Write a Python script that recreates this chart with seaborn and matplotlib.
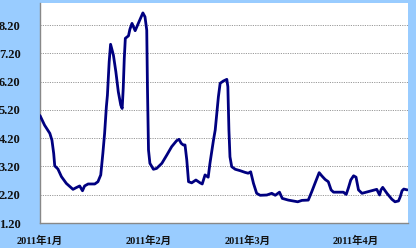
import numpy as np
import pandas as pd
import matplotlib
matplotlib.use("Agg")
import matplotlib.pyplot as plt
import seaborn as sns

# Day offsets from 2011-01-01 and rate values
day_offsets = [0.0, 1.3, 2.8, 3.4, 3.9, 4.2, 5.1, 6.1, 7.5, 9.4, 10.3, 11.3, 12.1, 12.7,
               13.7, 15.6, 16.5, 17.3, 17.9, 18.4, 18.9, 19.2, 19.7, 20.1, 20.9, 21.6,
               22.3, 23.0, 23.4, 23.7, 24.0, 24.3, 25.2, 25.6, 26.2, 27.1, 28.0, 29.3,
               29.9, 30.4, 30.6, 30.9, 31.3, 32.3, 33.2, 34.7, 36.1, 37.5, 38.9, 39.6,
               40.2, 40.8, 41.3, 41.8, 42.3, 43.2, 44.4, 45.6, 46.2, 47.0, 47.9, 48.4,
               49.4, 49.9, 50.8, 51.3, 52.2, 53.2, 53.5, 53.8, 54.1, 54.6, 55.6, 57.0,
               58.4, 59.3, 60.0, 60.8, 61.7, 62.7, 64.6, 66.0, 67.0, 68.2, 69.0, 70.7,
               73.4, 74.6, 76.4, 77.4, 78.3, 79.5, 80.3, 81.2, 82.1, 82.9, 83.6, 84.5,
               86.4, 87.2, 87.8, 88.5, 89.3, 90.0, 90.7, 91.7, 93.5, 95.9, 96.7, 97.1,
               97.6, 98.8, 100.2, 101.1, 102.1, 102.6, 103.1, 103.6, 104.6]
rates = [5.00, 4.66, 4.37, 4.13, 3.66, 3.22, 3.11, 2.84, 2.60, 2.39, 2.45, 2.51, 2.34, 2.51,
         2.58, 2.58, 2.66, 2.90, 3.66, 4.37, 5.31, 5.72, 6.90, 7.52, 7.14, 6.55,
         5.84, 5.37, 5.25, 5.96, 7.02, 7.73, 7.82, 8.05, 8.26, 8.00, 8.26, 8.63,
         8.49, 8.02, 6.00, 3.78, 3.31, 3.10, 3.13, 3.31, 3.60, 3.90, 4.11, 4.16,
         4.02, 3.96, 3.96, 3.43, 2.66, 2.62, 2.72, 2.62, 2.58, 2.90, 2.82, 3.31,
         4.13, 4.49, 5.66, 6.14, 6.22, 6.28, 6.02, 4.49, 3.54, 3.19, 3.10, 3.05,
         2.99, 2.96, 3.01, 2.60, 2.25, 2.18, 2.19, 2.25, 2.18, 2.29, 2.07, 2.01,
         1.95, 2.00, 2.01, 2.31, 2.60, 2.98, 2.86, 2.74, 2.66, 2.37, 2.29, 2.29,
         2.29, 2.21, 2.43, 2.72, 2.87, 2.82, 2.37, 2.25, 2.31, 2.39, 2.19, 2.37,
         2.46, 2.25, 2.04, 1.95, 1.98, 2.13, 2.34, 2.40, 2.37]

month_ticks = ["2011-01-01", "2011-02-01", "2011-03-01", "2011-04-01"]
month_labels = ["2011年1月", "2011年2月", "2011年3月", "2011年4月"]
y_ticks = [1.2, 2.2, 3.2, 4.2, 5.2, 6.2, 7.2, 8.2]
y_labels = ["1.20", "2.20", "3.20", "4.20", "5.20", "6.20", "7.20", "8.20"]

start = pd.Timestamp("2011-01-01")
df = pd.DataFrame({
    "date": start + pd.to_timedelta(day_offsets, unit="D"),
    "rate": rates,
})

sns.set_theme(style="white")
fonts = ["Liberation Serif", "Noto Sans CJK SC", "DejaVu Sans"]
plt.rcParams["font.family"] = fonts

bg = "#99CCFF"
fig = plt.figure(figsize=(4.16, 2.48), dpi=100, facecolor=bg)
ax = fig.add_axes([40 / 416, 1 - 223 / 248, 368 / 416, 220 / 248])
ax.set_facecolor("white")

ax.grid(False)
for yt in y_ticks[1:]:
    ax.axhline(yt, color="#999999", lw=0.7, ls=(0, (1.2, 1.2)), zorder=1)

sns.lineplot(data=df, x="date", y="rate", ax=ax, color="#000080", lw=2.0, zorder=3)

ax.set_ylim(1.2, 8.98)
ax.set_xlim(start, start + pd.Timedelta(days=104.8))
ax.set_yticks(y_ticks)
ax.set_yticklabels(y_labels, fontsize=9, fontweight="bold", color="#111111")
ax.set_xticks(pd.to_datetime(month_ticks))
ax.set_xticklabels(month_labels, fontsize=7.5, fontweight="bold", color="#111111")
ax.tick_params(axis="y", length=0, pad=14)
ax.tick_params(axis="x", direction="in", length=3, color="#888888", pad=9)
ax.set_xlabel("")
ax.set_ylabel("")

for side in ["top", "right"]:
    ax.spines[side].set_visible(False)
ax.spines["left"].set_color("#888888")
ax.spines["bottom"].set_color("#888888")
ax.spines["left"].set_linewidth(1.0)
ax.spines["bottom"].set_linewidth(1.0)

fig.savefig("out.png", dpi=100, facecolor=bg)
